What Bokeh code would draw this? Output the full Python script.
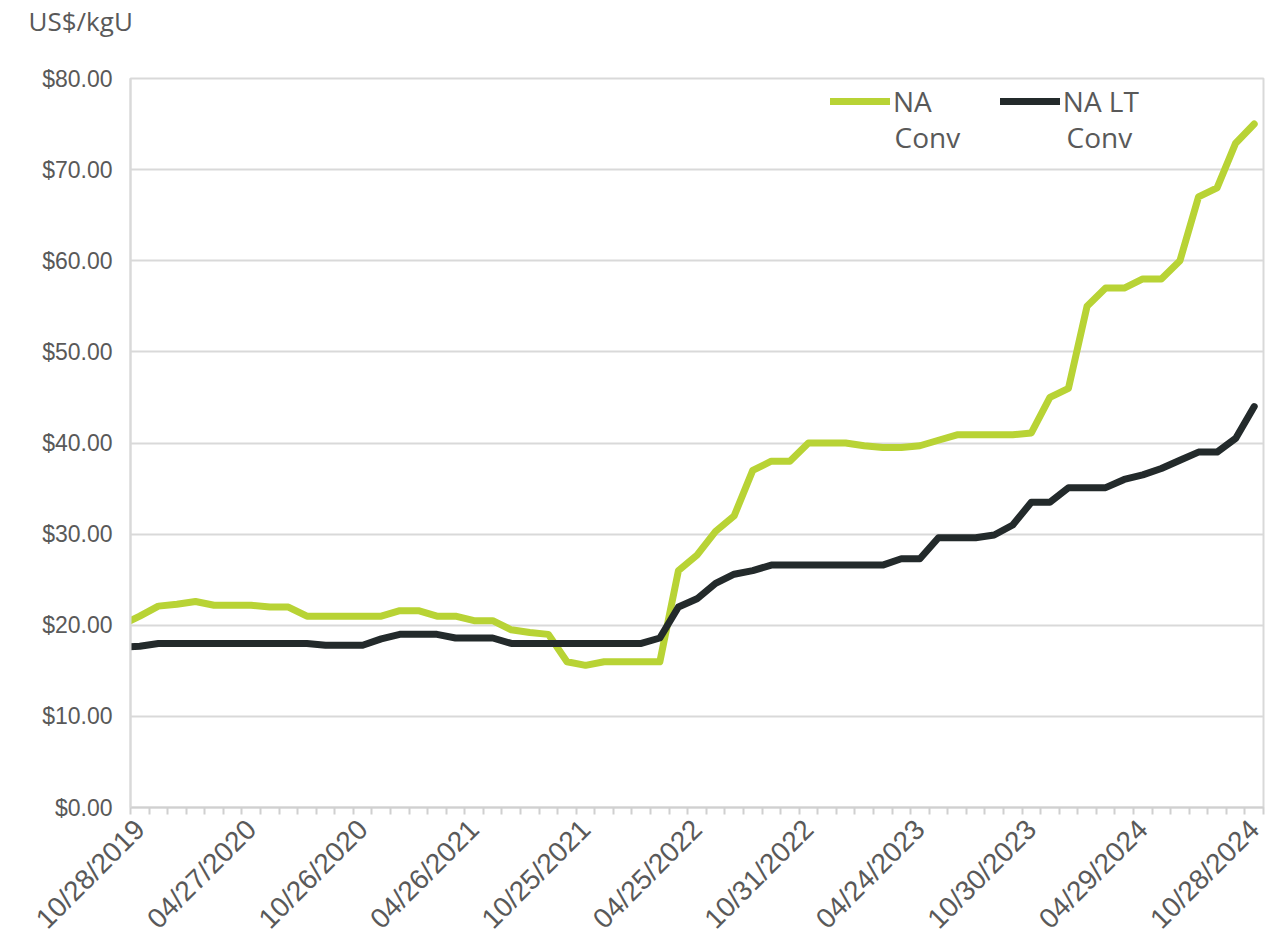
import math

from bokeh.embed import file_html
from bokeh.models import (ColumnDataSource, FixedTicker, Label, Legend, LegendItem,
                          NumeralTickFormatter, Range1d)
from bokeh.plotting import figure
from bokeh.resources import INLINE

# Monthly prices, US$/kgU, one value per month from Sep 2019 to Oct 2024
# (Sep 2019 sits just left of the visible range and only shapes the entry segment)
na_conv = [
    20.0,
    21.0, 22.1, 22.3, 22.6, 22.2, 22.2, 22.2, 22.0, 22.0, 21.0,
    21.0, 21.0, 21.0, 21.0, 21.6, 21.6, 21.0, 21.0, 20.5, 20.5,
    19.5, 19.2, 19.0, 16.0, 15.6, 16.0, 16.0, 16.0, 16.0, 26.0,
    27.7, 30.3, 32.0, 37.0, 38.0, 38.0, 40.0, 40.0, 40.0, 39.7,
    39.5, 39.5, 39.7, 40.3, 40.9, 40.9, 40.9, 40.9, 41.1, 45.0,
    46.0, 55.0, 57.0, 57.0, 58.0, 58.0, 60.0, 67.0, 68.0, 72.9,
    75.0,
]
na_lt_conv = [
    17.6,
    17.7, 18.0, 18.0, 18.0, 18.0, 18.0, 18.0, 18.0, 18.0, 18.0,
    17.8, 17.8, 17.8, 18.5, 19.0, 19.0, 19.0, 18.6, 18.6, 18.6,
    18.0, 18.0, 18.0, 18.0, 18.0, 18.0, 18.0, 18.0, 18.6, 22.0,
    22.9, 24.6, 25.6, 26.0, 26.6, 26.6, 26.6, 26.6, 26.6, 26.6,
    26.6, 27.3, 27.3, 29.6, 29.6, 29.6, 29.9, 31.0, 33.5, 33.5,
    35.1, 35.1, 35.1, 36.0, 36.5, 37.2, 38.1, 39.0, 39.0, 40.5,
    44.0,
]
# month index: 0 = Oct 2019, -1 = Sep 2019
month_index = list(range(-1, len(na_conv) - 1))
n_shown = len(na_conv) - 1

# Category labels shown every six months
label_positions = [0, 6, 12, 18, 24, 30, 36, 42, 48, 54, 60]
label_dates = ["10/28/2019", "04/27/2020", "10/26/2020", "04/26/2021", "10/25/2021",
               "04/25/2022", "10/31/2022", "04/24/2023", "10/30/2023", "04/29/2024",
               "10/28/2024"]
y_ticks = [0, 10, 20, 30, 40, 50, 60, 70, 80]

GREEN = "#B8D335"
DARK = "#232A2B"
GRID = "#D9D9D9"
TEXT = "#595959"

source = ColumnDataSource(dict(month=month_index, na=na_conv, lt=na_lt_conv))

p = figure(width=1269, height=950, output_backend="svg", toolbar_location=None,
           x_range=Range1d(-0.5, n_shown - 0.5), y_range=Range1d(0, 80),
           min_border_left=130, min_border_right=6, min_border_top=78,
           min_border_bottom=143)
p.background_fill_color = "white"
p.border_fill_color = "white"
p.outline_line_color = GRID
p.outline_line_width = 2

# unit caption above the value axis; padding is (left, right, top, bottom) and the
# bottom padding lifts the caption towards the top edge
p.title.text = "US$/kgU"
p.title.align = "left"
p.title.offset = -102
p.title.text_font = "Open Sans"
p.title.text_font_style = "normal"
p.title.text_font_size = "26px"
p.title.text_color = TEXT
p.title.standoff = 0
p.title.padding = (0, 0, 0, 40)

g_na = p.line("month", "na", source=source, line_color=GREEN, line_width=7,
              line_join="round", line_cap="round")
g_lt = p.line("month", "lt", source=source, line_color=DARK, line_width=7,
              line_join="round", line_cap="round")

# y axis
p.yaxis.ticker = FixedTicker(ticks=y_ticks)
p.yaxis.formatter = NumeralTickFormatter(format="$0.00")
p.yaxis.axis_line_color = GRID
p.yaxis.axis_line_width = 2
p.yaxis.major_tick_line_color = None
p.yaxis.minor_tick_line_color = None
p.yaxis.major_label_text_font = "Liberation Sans"
p.yaxis.major_label_text_font_size = "23px"
p.yaxis.major_label_text_color = TEXT
p.yaxis.major_label_standoff = 12

# x axis: labels at category centres, small ticks at category boundaries
p.xaxis.ticker = FixedTicker(ticks=label_positions,
                             minor_ticks=[i - 0.5 for i in range(n_shown + 1)])
p.xaxis.major_label_overrides = {pos: lab for pos, lab in zip(label_positions, label_dates)}
p.xaxis.major_label_orientation = math.pi / 4
p.xaxis.major_label_text_font = "Liberation Sans"
p.xaxis.major_label_text_font_size = "28px"
p.xaxis.major_label_text_color = TEXT
p.xaxis.major_label_standoff = 10
p.xaxis.axis_line_color = "#D0D0D0"
p.xaxis.axis_line_width = 2
p.xaxis.major_tick_line_color = None
p.xaxis.minor_tick_line_color = "#D0D0D0"
p.xaxis.minor_tick_line_width = 2
p.xaxis.minor_tick_in = 0
p.xaxis.minor_tick_out = 7

p.xgrid.grid_line_color = None
p.ygrid.grid_line_color = GRID
p.ygrid.grid_line_width = 2

legend = Legend(items=[LegendItem(label="NA", renderers=[g_na]),
                       LegendItem(label="NA LT", renderers=[g_lt])],
                orientation="horizontal", location=(700, 687),
                glyph_width=60, glyph_height=20, label_standoff=3, spacing=68,
                padding=0, margin=0, border_line_color=None,
                background_fill_alpha=0, label_text_font="Open Sans",
                label_text_font_size="28px", label_text_color=TEXT)
p.add_layout(legend)
for lx in (764, 936):
    p.add_layout(Label(x=lx, y=671, x_units="screen", y_units="screen", text="Conv",
                       text_font="Open Sans", text_font_size="28px", text_color=TEXT,
                       text_baseline="alphabetic"))

open("out.html", "w").write(file_html(p, INLINE))
